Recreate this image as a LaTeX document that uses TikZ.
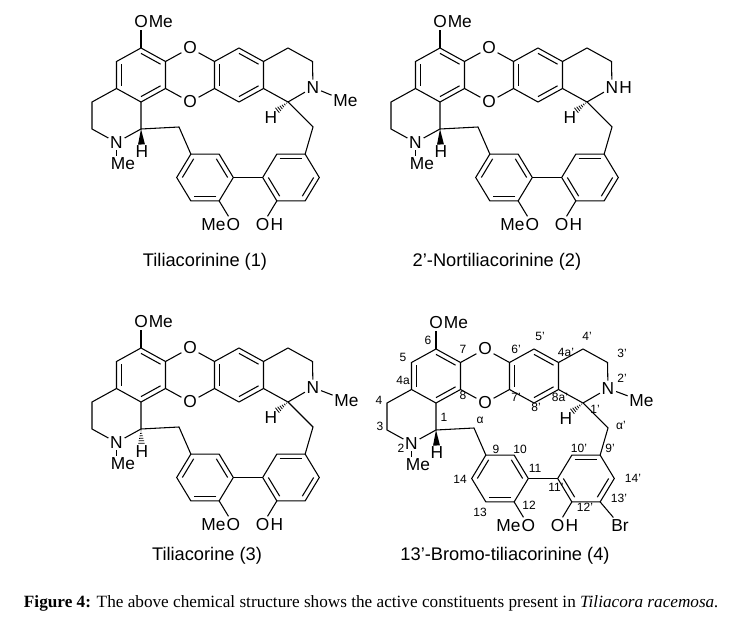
\documentclass[tikz,border=0pt]{standalone}
\usepackage{fontspec}
\setmainfont{Liberation Serif}
\setsansfont{Liberation Sans}
\usetikzlibrary{calc}

\tikzset{
    atom/.style={font=\sffamily\fontsize{13}{14}\selectfont, inner sep=1pt},
    tail/.style={atom, inner xsep=0pt},
    num/.style={font=\sffamily\fontsize{9}{10}\selectfont, inner sep=0pt},
    cpd/.style={font=\sffamily\fontsize{13.7}{16}\selectfont},
}

\newcommand{\innerbond}[3]{\draw ($(#1)!0.2!(#3)$) -- ($(#2)!0.2!(#3)$);}
\newcommand{\wedgebond}[2]{\fill (#1) -- ($(#2)!2.6pt!90:(#1)$) -- ($(#2)!2.6pt!-90:(#1)$) -- cycle;}
\newcommand{\hashbond}[2]{\foreach \hf in {0.12,0.28,...,0.95}
    \draw[line width=0.6pt] ($(#1)!\hf!(#2)!{\hf*2.6pt}!90:(#2)$) -- ($(#1)!\hf!(#2)!{\hf*2.6pt}!-90:(#2)$);}

\newcommand{\tiliacore}{
    \coordinate (ra) at (141,75);
    \coordinate (rb) at (239,75);
    \coordinate (re) at (205,177.5);
    \coordinate (rf) at (291,177.5);

    \coordinate (c6) at (141,48);
    \coordinate (c7) at (165.5,61.5);
    \coordinate (c8) at (165.5,88.5);
    \coordinate (c8a) at (141,102);
    \coordinate (c4a) at (116.5,88.5);
    \coordinate (c5) at (116.5,61.5);
    \node[atom] (o1) at (190,48) {O};
    \node[atom] (o2) at (190,102) {O};
    \coordinate (c6p) at (214.5,61.5);
    \coordinate (c7p) at (214.5,88.5);
    \coordinate (c5p) at (239,48);
    \coordinate (c4ap) at (263.5,61.5);
    \coordinate (c8ap) at (263.5,88.5);
    \coordinate (c8p) at (239,102);
    \coordinate (c4p) at (288,48);
    \coordinate (c3p) at (312.5,61.5);
    \node[atom] (n2p) at (313,87.5) {N};
    \coordinate (c1p) at (288,102);
    \coordinate (c1) at (141,129);
    \node[atom] (n2) at (116.5,142.5) {N};
    \coordinate (c3) at (92,129);
    \coordinate (c4) at (92,102);
    \coordinate (ca) at (179,127);
    \coordinate (cap) at (313,127);
    \coordinate (c9) at (190.85,154.1);
    \coordinate (c10) at (219.15,154.1);
    \coordinate (c11) at (233.3,177.5);
    \coordinate (c12) at (219.15,200.9);
    \coordinate (c13) at (190.85,200.9);
    \coordinate (c14) at (176.7,177.5);
    \coordinate (c11p) at (262.7,177.5);
    \coordinate (c10p) at (276.85,154.1);
    \coordinate (c9p) at (305.15,154.1);
    \coordinate (c14p) at (319.3,177.5);
    \coordinate (c13p) at (305.15,200.9);
    \coordinate (c12p) at (276.85,200.9);

    \node[atom] (o6) at (141,22) {O};
    \node[tail, anchor=base west, xshift=-1pt] at (o6.base east) {Me};
    \node[atom] (me2) at (123,164) {Me};
    \node[atom] (h1) at (142,152) {H};
    \coordinate (h1e) at (141.5,144.5);
    \node[atom] (h1p) at (271,118) {H};
    \coordinate (h1pe) at (276.5,111);
    \node[atom] (o12) at (233.3,224.3) {O};
    \node[tail, anchor=base east, xshift=1pt] at (o12.base west) {Me};
    \node[atom] (o12p) at (262.7,224.3) {O};
    \node[tail, anchor=base west, xshift=-1pt] at (o12p.base east) {H};

    \draw (c6) -- (c7) -- (c8) -- (c8a) -- (c4a) -- (c5) -- cycle;
    \draw (c7) -- (o1) -- (c6p) -- (c7p) -- (o2) -- (c8);
    \draw (c6p) -- (c5p) -- (c4ap) -- (c8ap) -- (c8p) -- (c7p);
    \draw (c4ap) -- (c4p) -- (c3p) -- (n2p) -- (c1p) -- (c8ap);
    \draw (c4a) -- (c4) -- (c3) -- (n2) -- (c1) -- (c8a);
    \draw (c6) -- (o6);
    \draw (n2) -- (n2 |- me2.north);
    \draw (c1) -- (ca) -- (c9);
    \draw (c1p) -- (cap) -- (c9p);
    \draw (c9) -- (c10) -- (c11) -- (c12) -- (c13) -- (c14) -- cycle;
    \draw (c11p) -- (c10p) -- (c9p) -- (c14p) -- (c13p) -- (c12p) -- cycle;
    \draw (c11) -- (c11p);
    \draw (c12) -- (o12);
    \draw (c12p) -- (o12p);

    \innerbond{c6}{c7}{ra} \innerbond{c8}{c8a}{ra} \innerbond{c4a}{c5}{ra}
    \innerbond{c6p}{c7p}{rb} \innerbond{c5p}{c4ap}{rb} \innerbond{c8ap}{c8p}{rb}
    \innerbond{c9}{c14}{re} \innerbond{c10}{c11}{re} \innerbond{c12}{c13}{re}
    \innerbond{c10p}{c9p}{rf} \innerbond{c11p}{c12p}{rf} \innerbond{c14p}{c13p}{rf}
    \hashbond{c1p}{h1pe}
}

\begin{document}
\begin{tikzpicture}[x=0.75pt, y=-0.75pt, line width=0.8pt]
    \useasboundingbox (0,0) rectangle (736,620);

    % (1)
    \begin{scope}
        \tiliacore
        \wedgebond{c1}{h1e}
        \node[atom] (me2p) at (345.5,101) {Me};
        \draw (n2p) -- (me2p);
    \end{scope}

    % (2)
    \begin{scope}[shift={(299,0)}]
        \tiliacore
        \wedgebond{c1}{h1e}
        \node[tail, anchor=base west, xshift=-1pt] at (n2p.base east) {H};
    \end{scope}

    % (3)
    \begin{scope}[shift={(0,300)}]
        \tiliacore
        \hashbond{c1}{h1e}
        \node[atom] (me2p) at (346.5,100.5) {Me};
        \draw (n2p) -- (me2p);
    \end{scope}

    % (4)
    \begin{scope}[shift={(295,301)}]
        \tiliacore
        \wedgebond{c1}{h1e}
        \node[atom] (me2p) at (346.5,100) {Me};
        \draw (n2p) -- (me2p);
        \node[atom] (br) at (325,224.3) {Br};
        \draw (c13p) -- (br);

        \node[num] at (133,39) {6};
        \node[num] at (168,48) {7};
        \node[num] at (108,56) {5};
        \node[num] at (221,48) {6'};
        \node[num] at (245,35) {5'};
        \node[num] at (271,51) {4a'};
        \node[num] at (292,35) {4'};
        \node[num] at (327,52) {3'};
        \node[num] at (327,77) {2'};
        \node[num] at (108,79) {4a};
        \node[num] at (84,99) {4};
        \node[num] at (168,94) {8};
        \node[num] at (221,96) {7'};
        \node[num] at (265,96) {8a'};
        \node[num] at (241,106) {8'};
        \node[num] at (300,108) {1'};
        \node[num] at (149,116) {1};
        \node[num] at (185,119) {α};
        \node[num] at (326,124) {α'};
        \node[num] at (85,125) {3};
        \node[num] at (106,147) {2};
        \node[num] at (201,148) {9};
        \node[num] at (225,148) {10};
        \node[num] at (284,147) {10'};
        \node[num] at (315,147) {9'};
        \node[num] at (165,178) {14};
        \node[num] at (240,167) {11};
        \node[num] at (261,186) {11'};
        \node[num] at (338,177) {14'};
        \node[num] at (324,197) {13'};
        \node[num] at (185,211) {13};
        \node[num] at (234,204) {12};
        \node[num] at (290,206) {12'};
    \end{scope}

    \node[cpd] (cap1) at (205,262) {Tiliacorinine (1)};
    \node[cpd] (cap2) at (497,262) {2'-Nortiliacorinine (2)};
    \node[cpd] (cap3) at (207,556) {Tiliacorine (3)};
    \node[cpd] (cap4) at (505,556) {13'-Bromo-tiliacorinine (4)};
    \node[anchor=west, font=\fontsize{12.9}{15}\selectfont] (fig) at (19,603)
        {\textbf{Figure 4:} The above chemical structure shows the active constituents present in \textit{Tiliacora racemosa.}};
\end{tikzpicture}
\end{document}
